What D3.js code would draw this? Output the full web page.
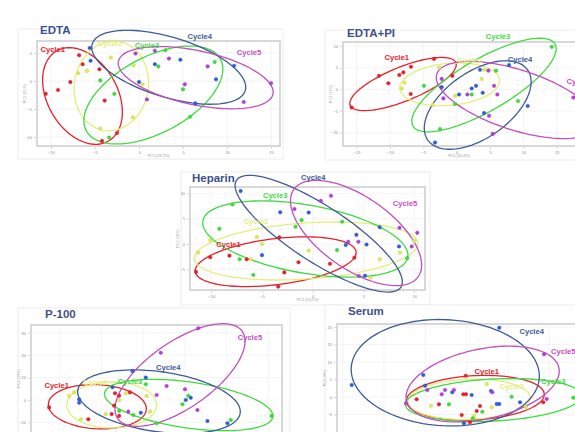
<!DOCTYPE html>
<html><head><meta charset="utf-8">
<script src="https://cdn.jsdelivr.net/npm/d3@7"></script>
<style>html,body{margin:0;padding:0;background:#fff;overflow:hidden}svg{display:block}</style>
</head><body>
<svg id="chart" width="575" height="432"></svg>
<script>
// ---------- DATA ----------
const cycles = ["Cycle1","Cycle2","Cycle3","Cycle4","Cycle5"];
const panelTitles = ["EDTA","EDTA+PI","Heparin","P-100","Serum"];
const xTitles = ["PC1 (26.7%)","PC1 (20.4%)","PC1 (20.5%)","PC1 (24.1%)","PC1 (22.3%)"];
const yTitles = ["PC2 (8.1%)","PC2 (11%)","PC2 (10%)","PC2 (13%)","PC2 (9%)"];

const xTicksEDTA = [-10,-5,0,5,10,15],   yTicksEDTA = [5,0,-5,-10];
const xTicksPI = [-15,-10,-5,0,5,10,15], yTicksPI = [10,5,0,-5,-10];
const xTicksHep = [-10,-5,0,5,10],       yTicksHep = [10,5,0,-5];
const xTicksP100 = [-10,-5,0,5,10,15],   yTicksP100 = [30,20,10,0,-10];
const xTicksSerum = [-15,-10,-5,0,5,10], yTicksSerum = [20,15,10,5,0,-5];

// points per cycle [PC1, PC2]
const edtaPoints = [
 [[-6.8,4.6],[-6.4,3.0],[-4.5,2.1],[-7.8,-0.2],[-9.2,-1.6],[-10.6,-2.3],[-3.9,-3.5],[-2.5,-9.3],[-4.2,-10.7]],
 [[-3.2,4.2],[-5.9,1.8],[-6.9,1.4],[-0.6,2.8],[0.4,-0.6],[-0.7,-6.5],[-4.4,-8.5]],
 [[-4.4,0.1],[-2.8,-2.3],[3.0,5.5],[2.2,2.6],[5.0,-1.5],[5.8,-6.4],[8.6,3.4],[-3.4,-10.1]],
 [[-5.6,5.9],[-5.5,3.6],[1.8,3.0],[0.0,-0.2],[4.7,3.8],[8.75,0.3],[10.8,2.7],[6.4,-4.0]],
 [[1.8,5.4],[3.4,4.0],[7.8,2.6],[5.2,-0.6],[0.9,-3.3],[15.0,-0.4],[11.9,-3.75],[-0.4,4.9]]
];
const piPoints = [
 [[-3.4,7.0],[-6.85,5.2],[-8.0,3.9],[-8.6,3.3],[-11.65,3.1],[-10.25,1.4],[-6.9,-1.1],[-15.75,-4.2],[-0.65,3.1]],
 [[-2.6,5.0],[-7.85,1.5],[-8.25,0.2],[-0.25,-1.5],[-3.6,-3.6],[3.75,2.4],[4.15,4.5]],
 [[-4.9,0.8],[-2.5,-9.2],[-0.25,-3.4],[2.25,-1.2],[5.9,4.3],[9.2,-2.7],[14.25,9.8]],
 [[3.5,4.5],[7.85,5.6],[2.25,0.2],[0.35,-1.2],[3.9,-0.8],[2.9,0.8],[4.1,-5.5],[10.65,-3.85],[-3.25,-12.3],[-2.25,0.5]],
 [[4.75,4.3],[5.6,0.8],[6.1,-1.2],[-2.25,2.4],[-2.0,-2.1],[1.6,-1.2],[4.85,-6.1],[5.4,-10.3],[17.5,-1.9]]
];
const hepPoints = [
 [[-11.5,-5.5],[-10.1,-2.6],[-8.2,-2.3],[-6.5,-3.0],[-3.3,1.3],[-1.4,-3.6],[-2.8,-5.6],[-3.4,-8.4],[1.7,-3.9],[4.1,-2.7]],
 [[-11.3,-1.7],[-10.1,0.8],[-5.5,1.4],[-5.0,0.0],[-0.4,-1.3],[-6.1,-3.0],[6.6,-3.0],[8.6,-1.7],[10.0,0.65],[5.7,-6.6]],
 [[-9.2,3.0],[-7.9,7.8],[-7.2,-3.0],[-5.85,-6.1],[-1.7,3.4],[-1.1,4.7],[2.9,4.4],[2.4,-1.2],[9.3,-2.8]],
 [[-7.1,10.45],[-3.2,6.25],[-0.4,6.2],[-5.0,-2.2],[4.3,1.8],[5.3,-0.1],[6.6,3.3],[8.5,-0.5],[5.15,-6.25],[3.25,-0.2]],
 [[0.8,8.5],[1.8,9.5],[-1.8,6.9],[3.5,0.45],[4.5,0.45],[8.55,3.2],[10.3,2.2],[9.75,-0.5],[4.55,-6.3]]
];
const p100Points = [
 [[-11.3,-3.3],[-6.6,-8.6],[-3.8,-6.3],[-3.4,3.0],[-3.5,-2.5],[-2.9,-7.1],[-1.6,3.4],[-2.9,1.9]],
 [[-8.9,1.8],[-8.3,3.4],[-7.5,-8.6],[-4.5,-6.3],[-2.1,3.0],[0.4,1.8],[0.8,-5.2],[-2.9,0.0]],
 [[-2.9,-4.9],[0.3,7.0],[-1.2,-6.7],[1.6,-10.4],[4.7,-1.9],[5.4,1.9],[10.5,-8.9],[15.4,-7.1]],
 [[-1.3,12.9],[0.3,10.0],[-3.7,5.7],[-7.7,0.3],[-7.7,-1.2],[-0.3,-5.7],[5.1,0.0],[5.7,1.0],[7.7,-9.4],[10.1,-10.4]],
 [[6.6,32.0],[2.1,21.1],[2.8,6.25],[1.6,2.2],[5.0,4.8],[6.5,-4.5],[-1.8,-5.2]]
];
const serumPoints = [
 [[-0.12,6.09],[-6.05,-0.66],[-3.35,-2.09],[-0.41,0.77],[-0.08,0.77],[1.61,-2.57],[-0.6,-5.14],[1.21,-4.0],[9.26,-1.51],[0.4,-7.23]],
 [[-4.32,-2.49],[2.42,3.71],[3.02,-2.94],[7.17,-2.94],[0.92,-5.43]],
 [[-2.14,-2.09],[1.89,-4.2],[5.44,0.09],[12.89,-0.2],[0.73,-6.09]],
 [[3.94,19.8],[-13.9,3.43],[-5.25,6.29],[-5.04,3.23],[-1.74,1.34],[0.6,0.57],[2.94,1.71],[3.63,-2.0],[3.94,-2.0],[6.45,-1.51],[-0.33,-7.51]],
 [[9.35,12.2],[-4.76,2.0],[-3.02,0.77],[-2.62,2.0],[-1.54,2.0],[3.1,1.34],[9.67,-0.57],[-7.34,-1.8]]
];

// ellipses per cycle: [centerPC1, centerPC2, axis1 dPC1, axis1 dPC2, axis2 dPC1, axis2 dPC2]
const edtaEllipses = [
 [-6.42,-2.68,2.95,-8.04,-3.44,-3.13],
 [-3.15,-0.89,-0.89,-7.92,-4.14,1.15],
 [1.63,-2.5,7.63,6.37,2.03,-5.99],
 [3.38,2.45,8.69,-4.17,-1.0,-5.12],
 [6.44,0.59,8.78,-2.93,-0.64,-4.72]
];
const piEllipses = [
 [-8.05,1.22,7.92,4.94,0.96,-3.64],
 [-1.05,1.15,7.47,1.0,0.27,-4.83],
 [4.09,0.99,10.65,9.47,1.95,-5.2],
 [3.15,-3.63,-7.49,-8.09,-2.84,6.24],
 [9.0,-2.47,11.98,-5.99,-1.39,-6.59]
];
const hepEllipses = [
 [-3.65,-3.49,7.92,1.95,0.28,-4.5],
 [-0.66,-1.38,11.01,1.54,0.19,-5.51],
 [-0.73,0.99,10.09,-3.57,-0.58,-6.61],
 [0.59,2.03,8.1,-10.53,-1.5,-4.63],
 [4.27,2.17,6.13,-8.6,-2.04,-5.82]
];
const p100Ellipses = [
 [-5.52,-2.99,5.88,-1.14,-0.14,-9.82],
 [-3.79,-2.23,5.4,0,0,-10.27],
 [5.45,-2.23,10.1,-5.27,-0.38,-10.17],
 [1.88,-0.76,9.75,-5.09,-0.5,-13.26],
 [4.41,11.16,7.47,19.48,2.27,-12.07]
];
const serumEllipses = [
 [1.04,-0.2,8.34,1.03,0.14,-6.29],
 [0.28,-0.66,7.38,0.61,0.08,-5.71],
 [3.22,-0.86,10.64,1.31,0.13,-6.0],
 [-2.59,6.94,11.37,-1.4,-0.33,-15.14],
 [1.93,3.71,9.22,4.64,0.88,-9.78]
];

// label anchor per cycle [PC1, PC2]
const edtaLabels  = [[-9.8,5.7],[-3.3,6.8],[0.9,6.4],[6.9,7.9],[12.5,5.1]];
const piLabels    = [[-9.0,7.4],[2.0,6.8],[6.2,12.3],[9.5,6.9],[18.3,1.9]];
const hepLabels   = [[-8.3,0.0],[-5.6,4.4],[-3.7,9.5],[0.06,13.1],[9.1,8.0]];
const p100Labels  = [[-10.4,6.4],[-5.8,7.7],[-1.6,8.2],[3.0,14.4],[12.8,27.8]];
const serumLabels = [[2.42,7.43],[5.44,3.14],[10.47,4.37],[7.86,18.86],[11.68,12.94]];

// ---------- STYLE / LAYOUT ----------
const pointColors   = ["#e8202a","#dbec55","#3ddc3d","#2d5fd6","#b33fdc"];
const ellipseColors = ["#e8202a","#e2ef7c","#40da40","#3e5b98","#c24fbf"];
const labelColors   = ["#e8202a","#e2ef7c","#3fd83f","#3e5b98","#c24fbf"];
const titleColor = "#3e4f8e";
const W = 575, H = 432;

const panels = [
 {pts:edtaPoints, ell:edtaEllipses, lab:edtaLabels, xt:xTicksEDTA, yt:yTicksEDTA,
  rect:[37,41,280,146], xd:[-11.59,16.02], yd:[-11.61,7.14], title:[40,34], frame:[18,29,283,159]},
 {pts:piPoints, ell:piEllipses, lab:piLabels, xt:xTicksPI, yt:yTicksPI,
  rect:[343,42,590,146], xd:[-17.05,19.99], yd:[-13.09,10.92], title:[347,37], frame:[325,30,600,160]},
 {pts:hepPoints, ell:hepEllipses, lab:hepLabels, xt:xTicksHep, yt:yTicksHep,
  rect:[190,187,425,290], xd:[-12.09,11.06], yd:[-9.07,11.24], title:[192,182], frame:[181,172,430,305]},
 {pts:p100Points, ell:p100Ellipses, lab:p100Labels, xt:xTicksP100, yt:yTicksP100,
  rect:[31,325,282,445], xd:[-13.48,16.65], yd:[-20.09,33.48], title:[45,318], frame:[18,308,290,450]},
 {pts:serumPoints, ell:serumEllipses, lab:serumLabels, xt:xTicksSerum, yt:yTicksSerum,
  rect:[337,324,600,445], xd:[-15.68,16.12], yd:[-13.71,20.86], title:[348,315], frame:[325,305,600,450]}
];

const svg = d3.select("#chart");
const font = "Liberation Sans, Arial, Helvetica, sans-serif";

panels.forEach((p, pi) => {
  const [x0,y0,x1,y1] = p.rect;
  const x = d3.scaleLinear().domain(p.xd).range([x0,x1]);
  const y = d3.scaleLinear().domain(p.yd).range([y1,y0]);
  const g = svg.append("g");
  const bottomVisible = y1 + 8 < H;

  // outer faint frame
  const [fx0,fy0,fx1,fy1] = p.frame;
  g.append("rect").attr("x",fx0).attr("y",fy0).attr("width",fx1-fx0).attr("height",fy1-fy0)
   .attr("fill","#fff").attr("stroke","#ececec").attr("stroke-width",1);

  // grid
  g.selectAll(".gx").data(p.xt).join("line")
   .attr("x1",d=>x(d)).attr("x2",d=>x(d)).attr("y1",y0).attr("y2",y1)
   .attr("stroke","#efefef").attr("stroke-width",0.7);
  g.selectAll(".gy").data(p.yt).join("line")
   .attr("y1",d=>y(d)).attr("y2",d=>y(d)).attr("x1",x0).attr("x2",x1)
   .attr("stroke","#efefef").attr("stroke-width",0.7);

  // panel border
  g.append("rect").attr("x",x0).attr("y",y0).attr("width",x1-x0).attr("height",y1-y0)
   .attr("fill","none").attr("stroke","#cfcfcf").attr("stroke-width",1.6);

  // axes (tiny ticks)
  const ya = d3.axisLeft(y).tickValues(p.yt).tickSize(2).tickPadding(2);
  const gy = g.append("g").attr("transform",`translate(${x0-1},0)`).call(ya);
  const axes = [gy];
  if (bottomVisible) {
    const xa = d3.axisBottom(x).tickValues(p.xt.filter(v => x(v) < W - 6)).tickSize(2).tickPadding(2);
    const gx = g.append("g").attr("transform",`translate(0,${y1+1})`).call(xa);
    axes.push(gx);
    g.append("text").attr("x",(x0+Math.min(x1,W))/2).attr("y",y1+11).attr("text-anchor","middle")
     .attr("font-size",3.8).attr("fill","#999").attr("font-family",font).text(xTitles[pi]);
  }
  axes.forEach(a=>{
    a.select(".domain").remove();
    a.selectAll("line").attr("stroke","#bbb").attr("stroke-width",0.6);
    a.selectAll("text").attr("font-size",4).attr("fill","#888").attr("font-family",font);
  });
  g.append("text").attr("transform",`translate(${x0-11},${(y0+Math.min(y1,H))/2}) rotate(-90)`)
   .attr("text-anchor","middle").attr("font-size",3.8).attr("fill","#999")
   .attr("font-family",font).text(yTitles[pi]);

  // ellipses
  const line = d3.line().x(d=>x(d[0])).y(d=>y(d[1])).curve(d3.curveLinearClosed);
  const ts = d3.range(0, 2*Math.PI, Math.PI/60);
  p.ell.forEach((e, ci) => {
    const [cx,cy,ax,ay,bx,by] = e;
    const pts = ts.map(t => [cx + ax*Math.cos(t) + bx*Math.sin(t), cy + ay*Math.cos(t) + by*Math.sin(t)]);
    g.append("path").attr("d", line(pts)).attr("fill","none")
     .attr("stroke", ellipseColors[ci]).attr("stroke-width", 1.3);
  });

  // points
  p.pts.forEach((arr, ci) => {
    g.selectAll(null).data(arr).join("circle")
     .attr("cx", d=>x(d[0])).attr("cy", d=>y(d[1])).attr("r", 1.8)
     .attr("fill", pointColors[ci]).attr("stroke", d3.color(pointColors[ci]).darker(0.4)).attr("stroke-width",0.4);
  });

  // labels
  p.lab.forEach((l, ci) => {
    g.append("text").attr("x", x(l[0])).attr("y", y(l[1])).attr("dy","0.35em")
     .attr("text-anchor","middle").attr("font-size",7.6).attr("font-weight","bold")
     .attr("font-family",font).attr("fill", labelColors[ci]).text(cycles[ci]);
  });

  // title
  g.append("text").attr("x", p.title[0]).attr("y", p.title[1])
   .attr("font-size",11.5).attr("font-weight","bold").attr("font-family",font)
   .attr("fill", titleColor).text(panelTitles[pi]);
});
</script>
</body></html>
